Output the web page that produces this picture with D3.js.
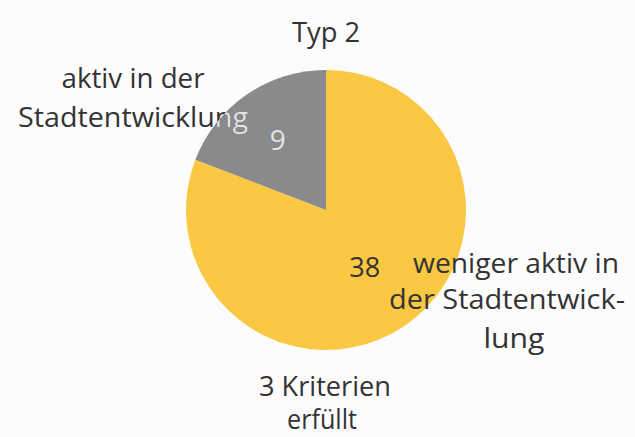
<!DOCTYPE html>
<html>
<head>
<meta charset="utf-8">
<script src="https://cdn.jsdelivr.net/npm/d3@7"></script>
<style>
  body { margin:0; background:#fcfcfc; }
  svg { display:block; }
</style>
</head>
<body>
<div id="chart"></div>
<script>
// data
const categories = ['weniger aktiv in der Stadtentwicklung', 'aktiv in der Stadtentwicklung'];
const values = [38, 9];
const colors = ['#FAC843', '#898A8C'];
const title = 'Typ 2';
const footer = ['3 Kriterien', 'erfüllt'];

var width = 635, height = 437;
var cx = 326, cy = 210, radius = 140;
var fontFam = "'Open Sans', 'Noto Sans', sans-serif";

var svg = d3.select('#chart').append('svg')
  .attr('width', width).attr('height', height);
svg.append('rect').attr('width', width).attr('height', height).attr('fill', '#fcfcfc');

var pie = d3.pie().sort(null).value(d => d);
var arcs = pie(values);
var arc = d3.arc().innerRadius(0).outerRadius(radius);

var g = svg.append('g').attr('transform', 'translate(' + cx + ',' + cy + ')');
g.selectAll('path.slice')
  .data(arcs)
  .enter().append('path')
  .attr('class', 'slice')
  .attr('d', arc)
  .attr('fill', (d, i) => colors[i]);

// clip for the gray slice (label text turns light there)
svg.append('clipPath').attr('id', 'grayClip')
  .append('path')
  .attr('transform', 'translate(' + cx + ',' + cy + ')')
  .attr('d', arc(arcs[1]));

function addText(parent, txt, x, y, len, fill) {
  return parent.append('text')
    .attr('x', x).attr('y', y)
    .attr('text-anchor', 'middle')
    .attr('font-family', fontFam)
    .attr('font-size', 28)
    .attr('fill', fill || '#333333')
    .attr('textLength', len)
    .attr('lengthAdjust', 'spacingAndGlyphs')
    .text(txt);
}

// title
addText(svg, title, 326, 42, 68);

// value labels on slices
var labelRadius = [0.49, 0.61];
arcs.forEach(function(d, i) {
  var a = d3.arc().innerRadius(radius * labelRadius[i] * 2).outerRadius(0);
  var c = a.centroid(d);
  addText(g, String(values[i]), c[0], c[1] + 10, i === 0 ? 31 : 16, i === 0 ? '#333333' : '#e4e4e4');
});

// category labels
addText(svg, 'aktiv in der', 133, 88, 143);
addText(svg, 'Stadtentwicklung', 133, 127, 230);
addText(svg.append('g').attr('clip-path', 'url(#grayClip)'), 'Stadtentwicklung', 133, 127, 230, '#e4e4e4');

addText(svg, 'weniger aktiv in', 516, 273, 206);
addText(svg, 'der Stadtentwick-', 507, 309, 236);
addText(svg, 'lung', 514, 348, 61);

addText(svg, footer[0], 325, 396, 132);
addText(svg, footer[1], 322, 429, 70);
</script>
</body>
</html>
